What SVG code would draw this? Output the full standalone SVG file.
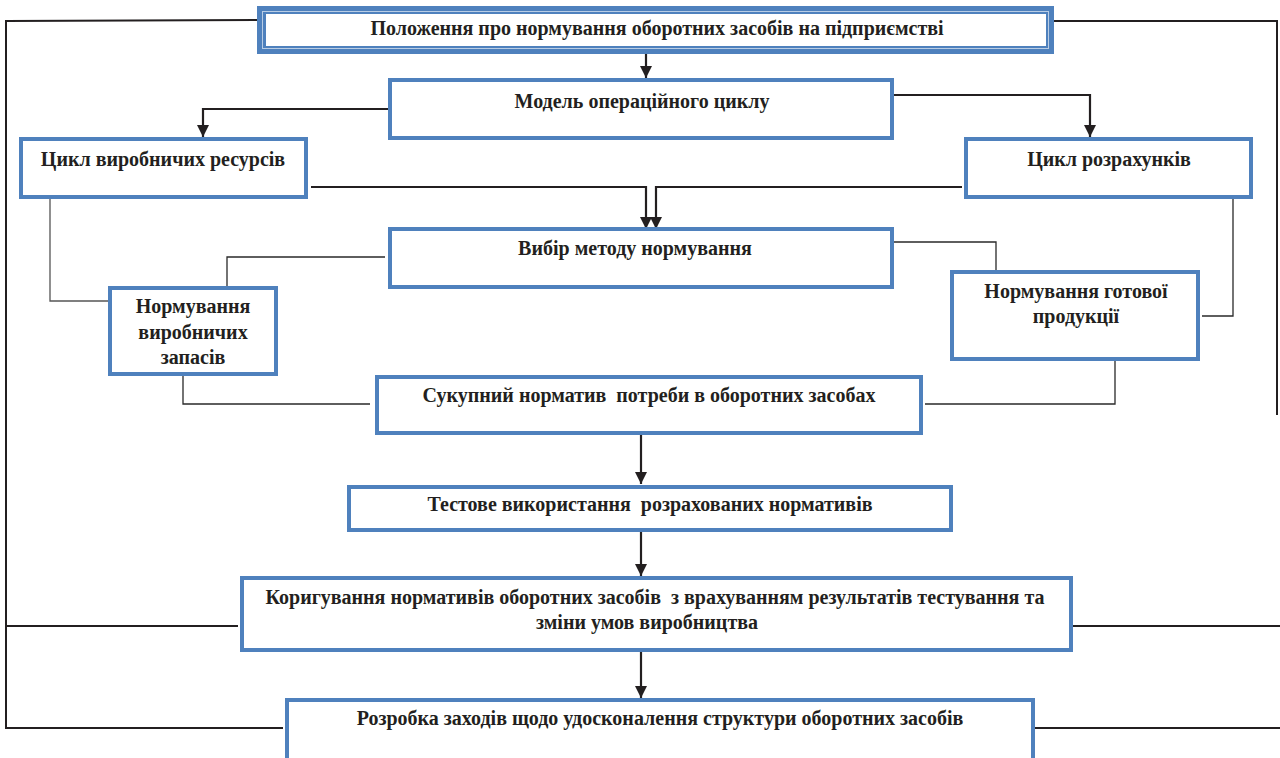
<svg xmlns="http://www.w3.org/2000/svg" width="1280" height="758" viewBox="0 0 1280 758">
<defs>
<marker id="ah" markerWidth="12" markerHeight="12" refX="11" refY="5.5" orient="auto" markerUnits="userSpaceOnUse" viewBox="0 0 11 11">
<path d="M0,0 L11,5.5 L0,11 Z" fill="#231f20"/>
</marker>
<style>
.box{fill:#fff;stroke:#4f81bd;stroke-width:4}
.t{font-family:"Liberation Serif","Times New Roman","DejaVu Serif",serif;font-weight:bold;font-size:20px;fill:#231f20;text-anchor:middle}
.fb{fill:none;stroke:#231f20;stroke-width:2}
.c{fill:none;stroke:#2a2a2a;stroke-width:1.3}
.ar{fill:none;stroke:#231f20;stroke-width:2.2;marker-end:url(#ah)}
</style>
</defs>
<rect width="1280" height="758" fill="#fff"/>
<g id="connectors">
<polyline class="fb" points="257,20 6,21 6,728 283,728"/>
<polyline class="fb" points="6,626 238,626"/>
<polyline class="fb" points="1054,21 1277,21 1277,415"/>
<polyline class="fb" points="1072,626 1280,626"/>
<polyline class="fb" points="1034,728 1280,728"/>
<line class="ar" x1="646" y1="54" x2="646" y2="78"/>
<polyline class="ar" points="389,109 203,109 203,137"/>
<polyline class="ar" points="893,95 1090,95 1090,137"/>
<polyline class="ar" points="311,187 646,187 646,229"/>
<polyline class="ar" points="962,187 656,187 656,229"/>
<polyline class="c" points="385,257 227,257 227,286"/>
<polyline class="c" points="50,199 50,301 108,301" style="stroke:#555"/>
<polyline class="c" points="183,375 183,404 370,404"/>
<polyline class="c" points="925,404 1115,404 1115,360"/>
<polyline class="c" points="893,242 996,242 996,270"/>
<polyline class="c" points="1233,198 1233,316 1202,316"/>
<line class="ar" x1="641" y1="433" x2="641" y2="484"/>
<line class="ar" x1="641" y1="530" x2="641" y2="576"/>
<line class="ar" x1="641" y1="651" x2="641" y2="698"/>
</g>
<g id="n-top">
<rect x="257" y="6" width="797" height="48" fill="#4f81bd"/>
<rect x="262.5" y="11.5" width="786" height="37" fill="none" stroke="#b9cde5" stroke-width="1"/>
<rect x="266" y="14" width="780" height="32" fill="#fff"/>
<text class="t" x="657" y="35">Положення про нормування оборотних засобів на підприємстві</text>
</g>
<g id="n-model">
<rect class="box" x="390" y="80" width="502" height="58"/>
<text class="t" x="642" y="108">Модель операційного циклу</text>
</g>
<g id="n-resources">
<rect class="box" x="21" y="139" width="285" height="58"/>
<text class="t" x="163" y="166">Цикл виробничих ресурсів</text>
</g>
<g id="n-settlements">
<rect class="box" x="966" y="139" width="285" height="58"/>
<text class="t" x="1109" y="166">Цикл розрахунків</text>
</g>
<g id="n-method">
<rect class="box" x="390" y="229" width="502" height="58"/>
<text class="t" x="635" y="255">Вибір методу нормування</text>
</g>
<g id="n-stocks">
<rect class="box" x="110" y="288" width="166" height="86"/>
<text class="t" x="193" y="313">Нормування</text>
<text class="t" x="193" y="339">виробничих</text>
<text class="t" x="193" y="364">запасів</text>
</g>
<g id="n-products">
<rect class="box" x="952" y="272" width="246" height="87"/>
<text class="t" x="1076" y="298">Нормування готової</text>
<text class="t" x="1076" y="323">продукції</text>
</g>
<g id="n-total">
<rect class="box" x="377" y="377" width="544" height="56"/>
<text class="t" x="649" y="402" xml:space="preserve">Сукупний норматив  потреби в оборотних засобах</text>
</g>
<g id="n-test">
<rect class="box" x="349" y="487" width="602" height="43"/>
<text class="t" x="650" y="511" xml:space="preserve">Тестове використання  розрахованих нормативів</text>
</g>
<g id="n-correct">
<rect class="box" x="242" y="578" width="829" height="72"/>
<text class="t" x="655" y="604" xml:space="preserve">Коригування нормативів оборотних засобів  з врахуванням результатів тестування та</text>
<text class="t" x="647" y="629">зміни умов виробництва</text>
</g>
<g id="n-develop">
<rect class="box" x="287" y="700" width="746" height="60"/>
<text class="t" x="660" y="725">Розробка заходів щодо удосконалення структури оборотних засобів</text>
</g>
</svg>
